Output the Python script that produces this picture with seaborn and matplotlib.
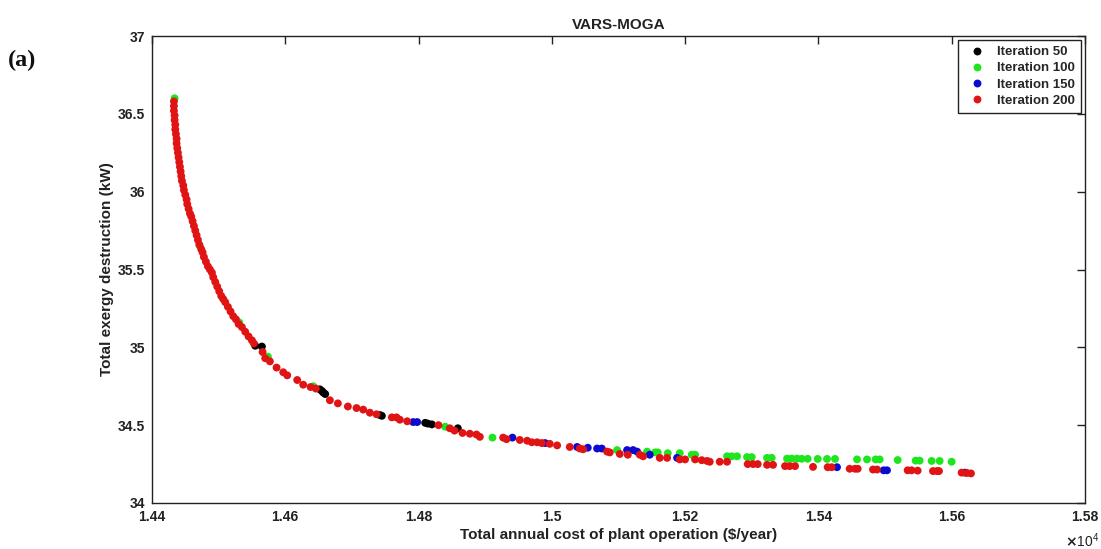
import numpy as np
import pandas as pd
import matplotlib
matplotlib.use("Agg")
import matplotlib.pyplot as plt
import seaborn as sns
from matplotlib.ticker import FuncFormatter, MultipleLocator

# ---------------- data (cost in $/year, exergy destruction in kW) ----------------
series_names = ["Iteration 50", "Iteration 100", "Iteration 150", "Iteration 200"]
series_colors = ["#000000", "#1ee61e", "#0a0ad2", "#e01414"]

iter50 = [(14555, 35.01), (14565, 35.005), (14652, 34.73), (14655, 34.72), (14657, 34.71),
          (14660, 34.70), (14742, 34.565), (14745, 34.56), (14810, 34.515), (14814, 34.51),
          (14820, 34.505), (14859, 34.48)]

iter100 = [(14434, 36.60), (14472, 35.65), (14531, 35.16), (14574, 34.94), (14642, 34.75),
           (14840, 34.49), (14911, 34.42), (15098, 34.34), (15143, 34.33), (15155, 34.325),
           (15159, 34.325), (15174, 34.32), (15192, 34.32), (15210, 34.31), (15215, 34.31),
           (15263, 34.30), (15270, 34.30), (15278, 34.30), (15293, 34.295), (15300, 34.295),
           (15323, 34.29), (15330, 34.29), (15353, 34.285), (15360, 34.285), (15368, 34.285),
           (15375, 34.284), (15384, 34.284), (15399, 34.283), (15413, 34.283), (15425, 34.283),
           (15458, 34.28), (15473, 34.28), (15486, 34.28), (15492, 34.28), (15519, 34.276),
           (15546, 34.272), (15552, 34.272), (15570, 34.27), (15582, 34.27), (15600, 34.265)]

iter150 = [(14792, 34.52), (14798, 34.52), (14941, 34.42), (14990, 34.385), (15038, 34.36),
           (15054, 34.355), (15068, 34.35), (15075, 34.35), (15113, 34.34), (15122, 34.34),
           (15128, 34.33), (15147, 34.31), (15188, 34.29), (15428, 34.23), (15498, 34.21),
           (15503, 34.21), (15620, 34.195)]

iter200 = [(14433, 36.58), (14433, 36.55), (14433, 36.52), (14434, 36.49), (14434, 36.46),
           (14435, 36.43), (14435, 36.40), (14436, 36.37), (14437, 36.34), (14437, 36.31),
           (14438, 36.28), (14439, 36.25), (14440, 36.22), (14441, 36.19), (14442, 36.16),
           (14443, 36.13), (14444, 36.10), (14445, 36.07), (14447, 36.04), (14448, 36.01),
           (14450, 35.98), (14452, 35.95), (14453, 35.92), (14455, 35.89), (14457, 35.86),
           (14459, 35.84), (14461, 35.81), (14463, 35.78), (14465, 35.75), (14467, 35.72),
           (14469, 35.69), (14471, 35.66), (14474, 35.63), (14476, 35.61), (14478, 35.58),
           (14481, 35.55), (14484, 35.52), (14487, 35.50), (14490, 35.48), (14492, 35.45),
           (14495, 35.42), (14498, 35.39), (14501, 35.36), (14504, 35.33), (14507, 35.31),
           (14510, 35.29), (14514, 35.26), (14518, 35.23), (14522, 35.20), (14526, 35.18),
           (14530, 35.15), (14535, 35.13), (14540, 35.10), (14545, 35.07), (14550, 35.045),
           (14553, 35.025), (14566, 34.97), (14570, 34.93), (14577, 34.91), (14587, 34.87),
           (14597, 34.84), (14603, 34.82), (14618, 34.79), (14627, 34.76), (14638, 34.745),
           (14646, 34.735), (14667, 34.66), (14679, 34.64), (14694, 34.62), (14707, 34.61),
           (14717, 34.60), (14727, 34.58), (14737, 34.57), (14760, 34.55), (14767, 34.55),
           (14772, 34.535), (14783, 34.525), (14830, 34.50), (14847, 34.48), (14854, 34.465),
           (14866, 34.45), (14877, 34.445), (14887, 34.44), (14892, 34.425), (14927, 34.42),
           (14932, 34.41), (14952, 34.405), (14963, 34.40), (14970, 34.39), (14978, 34.39),
           (14985, 34.385), (14997, 34.38), (15008, 34.37), (15027, 34.36), (15042, 34.35),
           (15047, 34.345), (15083, 34.33), (15087, 34.325), (15102, 34.315), (15114, 34.31),
           (15132, 34.31), (15137, 34.30), (15162, 34.29), (15173, 34.29), (15192, 34.28),
           (15200, 34.28), (15215, 34.28), (15225, 34.275), (15233, 34.27), (15237, 34.265),
           (15252, 34.265), (15263, 34.265), (15294, 34.25), (15302, 34.25), (15309, 34.25),
           (15323, 34.245), (15332, 34.245), (15350, 34.237), (15357, 34.237), (15365, 34.237),
           (15392, 34.232), (15414, 34.23), (15420, 34.23), (15447, 34.22), (15455, 34.22),
           (15459, 34.22), (15482, 34.215), (15488, 34.215), (15534, 34.21), (15540, 34.21),
           (15549, 34.208), (15572, 34.205), (15578, 34.205), (15581, 34.205), (15615, 34.195),
           (15623, 34.193), (15629, 34.19)]

x_ticks_label_scale = 1e4

# ---------------- build frame ----------------
frames = []
for name, pts in zip(series_names, [iter50, iter100, iter150, iter200]):
    arr = np.array(pts, dtype=float)
    frames.append(pd.DataFrame({"cost": arr[:, 0], "exergy": arr[:, 1], "series": name}))
df = pd.concat(frames, ignore_index=True)

# ---------------- style ----------------
sns.set_theme(style="white")
plt.rcParams["font.family"] = ["Liberation Sans", "DejaVu Sans"]
plt.rcParams["font.weight"] = "bold"
plt.rcParams["axes.labelweight"] = "bold"
plt.rcParams["axes.titleweight"] = "bold"

fig = plt.figure(figsize=(11.01, 5.49), dpi=100)
ax = fig.add_axes([0.138, 0.0838, 0.8474, 0.8506])

sns.scatterplot(data=df, x="cost", y="exergy", hue="series", hue_order=series_names,
                palette=series_colors, s=32, linewidth=0, alpha=1.0, ax=ax)

ax.set_xlim(14400, 15800)
ax.set_ylim(34, 37)
ax.xaxis.set_major_locator(MultipleLocator(200))
ax.xaxis.set_major_formatter(FuncFormatter(lambda v, p: f"{v / x_ticks_label_scale:g}"))
ax.yaxis.set_major_locator(MultipleLocator(0.5))
ax.yaxis.set_major_formatter(FuncFormatter(lambda v, p: f"{v:g}"))

ax.tick_params(direction="in", length=6, width=1, top=True, right=True,
               labelsize=10, colors="#222222", pad=5)
for sp in ax.spines.values():
    sp.set_visible(True)
    sp.set_color("#222222")
    sp.set_linewidth(1.0)

ax.set_title("VARS-MOGA", fontsize=11, fontweight="bold", pad=5, color="#222222")
ax.set_xlabel("Total annual cost of plant operation ($/year)", fontsize=11,
              fontweight="bold", labelpad=3, color="#222222")
ax.set_ylabel("Total exergy destruction (kW)", fontsize=11, fontweight="bold",
              labelpad=3, color="#222222")

old = ax.get_legend()
handles = old.legend_handles
labels = [t.get_text() for t in old.get_texts()]
old.remove()
leg = ax.legend(handles, labels, loc="upper right", frameon=True, fancybox=False,
                edgecolor="#222222", framealpha=1.0, borderaxespad=0.3,
                handletextpad=0.5, labelspacing=0.3, borderpad=0.45,
                prop={"weight": "bold", "size": 9.5})
leg.get_frame().set_linewidth(1.0)

fig.text(8 / 1101, 1 - 60 / 549, "(a)", family="Liberation Serif", fontweight="bold",
         fontsize=17.5, va="center", ha="left", color="#111111")
fig.text(1099 / 1101, 1 - 541 / 549, r"$\times\mathregular{10^{4}}$", fontsize=10,
         fontweight="normal", va="center", ha="right", color="#222222")

fig.savefig("out.png", dpi=100)
